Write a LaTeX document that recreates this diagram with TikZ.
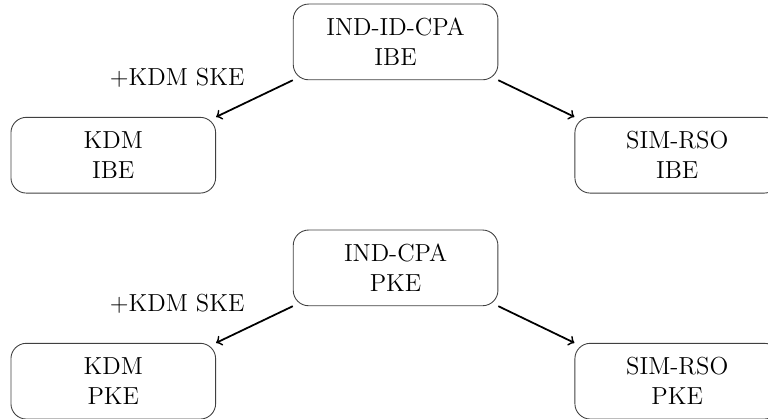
\documentclass[tikz,border=0pt]{standalone}
\usepackage{amsmath}
\usepackage{xcolor}
\usepackage{tikz}

\begin{document}
\begin{tikzpicture}[thick,every node/.style={font=\fontsize{11.2}{13.6}\selectfont},
    notion/.style={draw=gray!50!black,thin,rounded corners=7pt,minimum width=3.27cm,minimum height=1.21cm,align=center}]
        \useasboundingbox (0,0) rectangle (12.27,-6.68);
        % identity-based encryption
        \node[notion] (ibecpa) at (6.32,-0.67) {IND-ID-CPA\\IBE};
        \node[notion] (ibekdm) at (1.81,-2.48) {KDM\\IBE};
        \node[notion] (iberso) at (10.82,-2.48) {SIM-RSO\\IBE};
        \node[] (ibeske) at (2.83,-1.25) {+KDM SKE};
        \draw[->] (ibecpa.south west) -- (ibekdm.north east);
        \draw[->] (ibecpa.south east) -- (iberso.north west);
        % public key encryption
        \node[notion] (pkecpa) at (6.32,-4.28) {IND-CPA\\PKE};
        \node[notion] (pkekdm) at (1.81,-6.09) {KDM\\PKE};
        \node[notion] (pkerso) at (10.82,-6.09) {SIM-RSO\\PKE};
        \node[] (pkeske) at (2.83,-4.86) {+KDM SKE};
        \draw[->] (pkecpa.south west) -- (pkekdm.north east);
        \draw[->] (pkecpa.south east) -- (pkerso.north west);
    \end{tikzpicture}
\end{document}
